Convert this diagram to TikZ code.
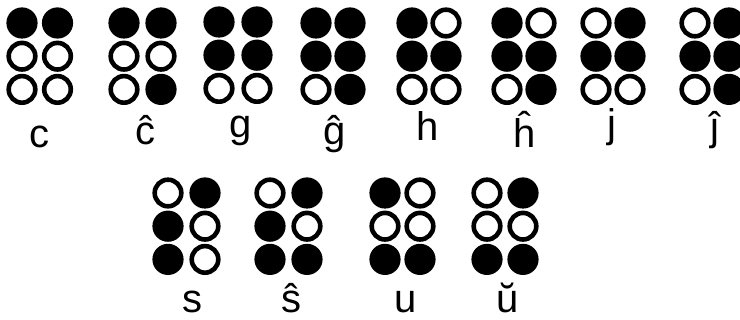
\documentclass[tikz,border=0pt]{standalone}
\usepackage{fontspec}
\setmainfont{Liberation Sans}
\newcommand\bcell[4]{%
  \foreach \v [count=\i from 0] in {#4} {%
    \pgfmathsetmacro\cx{mod(\i,2)==0 ? #1 : #2}%
    \pgfmathsetmacro\cy{#3 + int(\i/2)*33.2}%
    \ifnum\v=1
      \fill[black] (\cx,\cy) circle[radius=15.6];
    \else
      \draw[black,line width=4.6] (\cx,\cy) circle[radius=13.3];
    \fi
  }%
}
\begin{document}
\begin{tikzpicture}[x=1pt,y=-1pt,
  lbl/.style={anchor=base,inner sep=0pt,font=\fontsize{40}{40}\selectfont}]
\useasboundingbox (0,0) rectangle (740,320);
\fill[white] (0,0) rectangle (740,320);
% row 1
\bcell{22}{57.5}{23}{1,1,0,0,0,0}
\bcell{124}{161}{23}{1,1,0,0,0,1}
\bcell{219}{257}{22}{1,1,1,1,0,0}
\bcell{316}{350}{23}{1,1,1,1,0,1}
\bcell{412}{446}{23}{1,0,1,1,0,0}
\bcell{507}{541}{23}{1,0,1,1,0,1}
\bcell{596}{630}{23}{0,1,1,1,0,0}
\bcell{695}{729}{23}{0,1,1,1,0,1}
% row 2
\bcell{168}{205}{193}{0,1,1,0,1,0}
\bcell{270}{307}{193}{0,1,1,0,1,1}
\bcell{385}{420}{193}{1,0,0,0,1,1}
\bcell{487}{523}{193}{0,1,0,0,1,1}
% labels
\node[lbl] (lc) at (39,148) {c};
\node[lbl] (lcc) at (145,145) {ĉ};
\node[lbl] (lg) at (241,138) {g};
\node[lbl] (lgc) at (335,145) {ĝ};
\node[lbl] (lh) at (428,141) {h};
\node[lbl] (lhc) at (525,148) {ĥ};
\node[lbl] (lj) at (612,138) {j};
\node[lbl] (ljc) at (715,141) {ĵ};
\node[lbl] (ls) at (192,313) {s};
\node[lbl] (lsc) at (291,313) {ŝ};
\node[lbl] (lu) at (406,313) {u};
\node[lbl] (luc) at (508,313) {ŭ};
\end{tikzpicture}
\end{document}
